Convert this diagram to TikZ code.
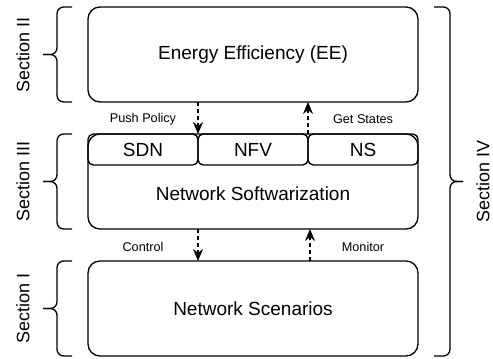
\documentclass[tikz,border=0pt]{standalone}
\usepackage{fontspec}
\setmainfont{Liberation Sans}
\usetikzlibrary{calc,positioning,arrows.meta}
\tikzset{
    block/.style={
        draw,
        rounded corners=9pt,
        minimum width=247.5pt,
        minimum height=71.25pt,
        inner sep=0pt,
        outer sep=0pt,
        font=\fontsize{14.25}{16}\selectfont
    },
    subblock/.style={
        draw,
        rounded corners=4pt,
        minimum width=82.5pt,
        minimum height=23.25pt,
        inner sep=0pt,
        outer sep=0pt,
        font=\fontsize{14.25}{16}\selectfont
    },
    flow/.style={
        draw,
        dash pattern=on 3pt off 2.25pt,
        -{Stealth[length=9pt,width=7.5pt,inset=3pt]}
    },
    flowlabel/.style={font=\fontsize{9.5}{11}\selectfont},
    sectionlabel/.style={rotate=90, font=\fontsize{13.5}{16}\selectfont}
}

\begin{document}
\begin{tikzpicture}[x=0.75pt,y=-0.75pt,line width=1pt]
        \useasboundingbox (0,0) rectangle (493,358);
        \def\gap{24}
        \node[block] (ee) at (253,54.5) {Energy Efficiency (EE)};
        \node[block, below = \gap pt of ee] (soft) {};
        \node[block, below = \gap pt of soft] (scen) {Network Scenarios};
        
        
        \node[subblock, anchor=north west] (sdn) at (soft.north west) {SDN};
        \node[subblock, right = 0pt of sdn] (nfv) {NFV};
        \node[subblock, right = 0pt of nfv] (ns) {NS};
        \node[font=\fontsize{14.25}{16}\selectfont] (softtext) at ($(soft.south)+(0,-35)$) {Network Softwarization};
        
        
        \draw[flow] (ee.south -| sdn.north east) -- (sdn.north east);
        \draw[flow] (nfv.north east) -- (ee.south -| nfv.north east);
        \draw[flow] (soft.south -| sdn.north east) -- (scen.north -| sdn.north east);
        \draw[flow] ($(scen.north -| nfv.north east)+(2,0)$) -- ($(soft.south -| nfv.north east)+(2,0)$);
        
        \node[flowlabel] at ($(ee.south -| sdn.north)!0.55!(sdn.north)$) {Push Policy};
        \node[flowlabel] at ($(ee.south -| ns.north)!0.55!(ns.north)$) {Get States};
        \node[flowlabel] at ($(soft.south -| sdn.north)!0.55!(scen.north -| sdn.north)$) {Control};
        \node[flowlabel] at ($(soft.south -| ns.north)!0.55!(scen.north -| ns.north)$) {Monitor};
        
        
        \foreach \blk/\sec in {ee/II, soft/III, scen/I} {
            \draw[rounded corners=5pt] ($(\blk.north west)+(-16,0)$) -| ($(\blk.west)+(-31,0)$) -- ($(\blk.west)+(-45,0)$);
            \draw[rounded corners=5pt] ($(\blk.south west)+(-16,0)$) -| ($(\blk.west)+(-31,0)$) -- ($(\blk.west)+(-45,0)$);
            \node[sectionlabel] at ($(\blk.west)+(-65,0)$) {Section \sec};
        }
        \draw[rounded corners=5pt] ($(ee.north east)+(16,0)$) -| ($(soft.east)+(32,0)$) -- ($(soft.east)+(45,0)$);
        \draw[rounded corners=5pt] ($(scen.south east)+(16,0)$) -| ($(soft.east)+(32,0)$) -- ($(soft.east)+(45,0)$);
        \node[sectionlabel] at ($(soft.east)+(65,0)$) {Section IV};
    \end{tikzpicture}
\end{document}
